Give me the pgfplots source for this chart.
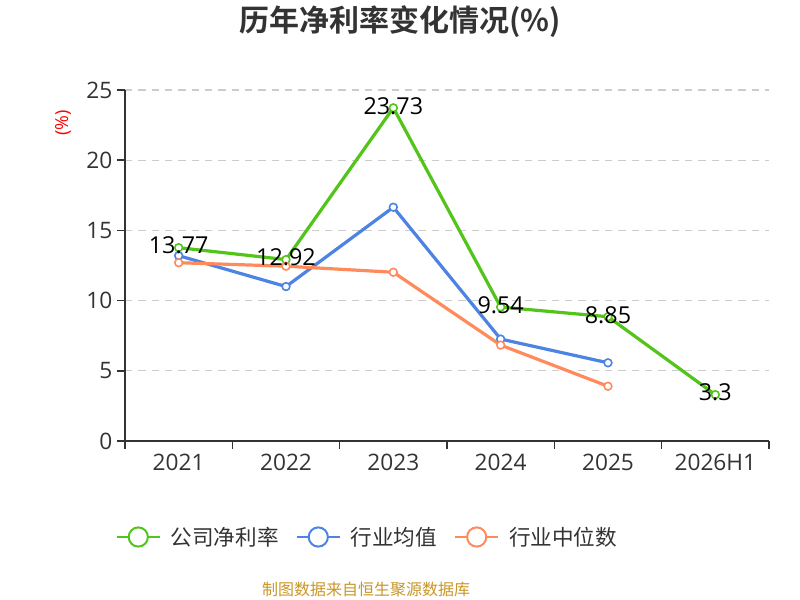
\documentclass[border=0pt]{standalone}
\usepackage{fontspec}
\setmainfont{Open Sans}
\newfontfamily\cjk{Noto Sans CJK SC}[BoldFont={Noto Sans CJK SC Bold}]
\usepackage{pgfplots}
\pgfplotsset{compat=1.18}
\definecolor{cgreen}{RGB}{82,196,26}
\definecolor{cblue}{RGB}{77,131,226}
\definecolor{corange}{RGB}{255,138,92}
\definecolor{axisgray}{RGB}{51,51,51}
\definecolor{gridgray}{RGB}{204,204,204}
\definecolor{srccol}{RGB}{200,150,40}
\begin{document}
\begin{tikzpicture}
\useasboundingbox (0,0) rectangle (600pt,450pt);
\begin{axis}[
  at={(93.75pt,119.25pt)}, anchor=south west,
  scale only axis, width=483pt, height=263.25pt,
  xmin=-0.5, xmax=5.5, ymin=0, ymax=25,
  clip=false,
  axis x line=bottom, axis y line=left,
  axis line style={-, color=axisgray, line width=1.1pt},
  xtick={0,...,5}, xticklabels={2021,2022,2023,2024,2025,2026H1},
  minor xtick={-0.5,0.5,...,5.5},
  ytick={0,5,...,25}, minor ytick={0,5,...,25},
  tick align=outside, major tick length=0pt, minor tick length=6pt,
  tick style={color=axisgray, line width=1.1pt},
  ymajorgrids,
  grid style={color=gridgray, line width=0.8pt, dash pattern=on 5.5pt off 4.5pt},
  /pgf/number format/assume math mode=true,
  tick label style={font=\fontsize{17pt}{20pt}\selectfont, text=axisgray},
  yticklabel style={xshift=-6pt},
  xticklabel style={yshift=-6.3pt},
  every axis plot/.append style={line width=2.4pt},
  legend columns=3,
  legend image code/.code={
    \draw[#1, mark=none, line width=1.5pt] (0pt,0pt) -- (32pt,0pt);
    \draw[#1, mark=none, line width=1.5pt, fill=white] (16pt,0pt) circle (7.2pt);
  },
  legend style={at={(0.375,-0.2735)}, anchor=center, draw=none, fill=none,
    font=\cjk\fontsize{16.2pt}{19pt}\selectfont, text=axisgray,
    nodes={inner sep=0pt},
    /tikz/every odd column/.append style={column sep=7.5pt},
    /tikz/every even column/.append style={column sep=13pt}},
]
\addplot[cgreen, mark=*, mark size=2.9pt, mark options={fill=white, line width=1.2pt}]
  coordinates {(0,13.77) (1,12.92) (2,23.73) (3,9.54) (4,8.85) (5,3.3)};
\addlegendentry{公司净利率}
\addplot[cblue, mark=*, mark size=2.9pt, mark options={fill=white, line width=1.2pt}]
  coordinates {(0,13.2) (1,11.0) (2,16.65) (3,7.26) (4,5.57)};
\addlegendentry{行业均值}
\addplot[corange, mark=*, mark size=2.9pt, mark options={fill=white, line width=1.2pt}]
  coordinates {(0,12.7) (1,12.45) (2,12.02) (3,6.83) (4,3.9)};
\addlegendentry{行业中位数}
\addplot[draw=none, mark=none, forget plot, point meta=explicit symbolic,
  nodes near coords={\pgfplotspointmeta},
  every node near coord/.append style={anchor=center, yshift=1.5pt, text=black,
    font=\fontsize{17.5pt}{20pt}\selectfont}]
  coordinates {(0,13.77) [13.77] (1,12.92) [12.92] (2,23.73) [23.73] (3,9.54) [9.54] (4,8.85) [8.85] (5,3.3) [3.3]};
\end{axis}
\node[font=\cjk\bfseries\fontsize{22.5pt}{27pt}\selectfont, text=axisgray] at (300pt,433.5pt) {历年净利率变化情况(\%)};
\node[rotate=90, text=red, font=\fontsize{13.5pt}{16pt}\selectfont] at (47.25pt,357.75pt) {(\%)};
\node[font=\cjk\fontsize{12pt}{14pt}\selectfont, text=srccol] at (274.5pt,8.25pt) {制图数据来自恒生聚源数据库};
\end{tikzpicture}
\end{document}
